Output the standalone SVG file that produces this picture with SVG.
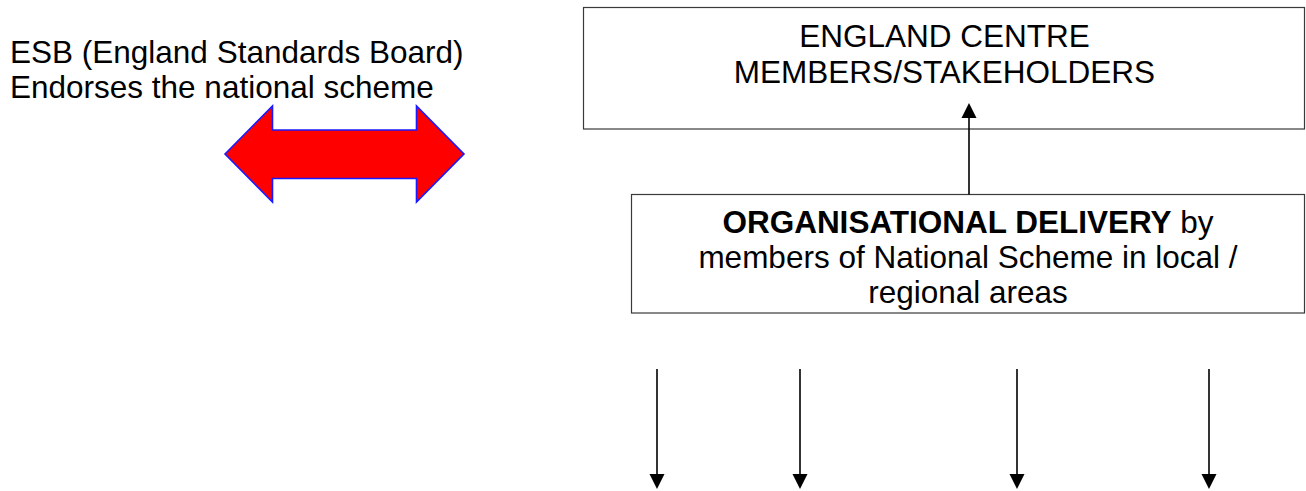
<svg xmlns="http://www.w3.org/2000/svg" width="1306" height="491" viewBox="0 0 1306 491">
<style>
  text { font-family: "Liberation Sans", Arial, sans-serif; font-size: 31.5px; fill: #000; }
  .box { fill: #fff; stroke: #3a3a3a; stroke-width: 1.2; }
  .conn { stroke: #000; stroke-width: 1.6; fill: none; }
  .head { fill: #000; }
  .c { text-anchor: middle; }
</style>
<rect width="1306" height="491" fill="#fff"/>
<g id="esb">
  <text x="10" y="62.7">ESB (England Standards Board)</text>
  <text x="10" y="98.3">Endorses the national scheme</text>
</g>
<g id="double-arrow">
  <polygon points="225,154 272.5,106 272.5,130 416.5,130 416.5,106 464,154 416.5,202 416.5,178.5 272.5,178.5 272.5,202" fill="#ff0000" stroke="#1a1aff" stroke-width="1.6" stroke-linejoin="miter"/>
</g>
<g id="england-centre">
  <rect class="box" x="583.5" y="7.5" width="721" height="121.5"/>
  <text class="c" x="944.5" y="47.3">ENGLAND CENTRE</text>
  <text class="c" x="944.5" y="82.7">MEMBERS/STAKEHOLDERS</text>
</g>
<g id="organisational-delivery">
  <rect class="box" x="631.5" y="194.5" width="673" height="118.5"/>
  <text class="c" x="968" y="233"><tspan font-weight="bold">ORGANISATIONAL DELIVERY</tspan> by</text>
  <text class="c" x="968" y="268">members of National Scheme in local /</text>
  <text class="c" x="968" y="303">regional areas</text>
</g>
<g id="connectors">
  <line class="conn" x1="969" y1="194.5" x2="969" y2="117"/>
  <polygon class="head" points="969,103 961.5,118 976.5,118"/>
  <line class="conn" x1="657" y1="369" x2="657" y2="475"/>
  <polygon class="head" points="657,489 649.5,474 664.5,474"/>
  <line class="conn" x1="800" y1="369" x2="800" y2="475"/>
  <polygon class="head" points="800,489 792.5,474 807.5,474"/>
  <line class="conn" x1="1017" y1="369" x2="1017" y2="475"/>
  <polygon class="head" points="1017,489 1009.5,474 1024.5,474"/>
  <line class="conn" x1="1209" y1="369" x2="1209" y2="475"/>
  <polygon class="head" points="1209,489 1201.5,474 1216.5,474"/>
</g>
</svg>
